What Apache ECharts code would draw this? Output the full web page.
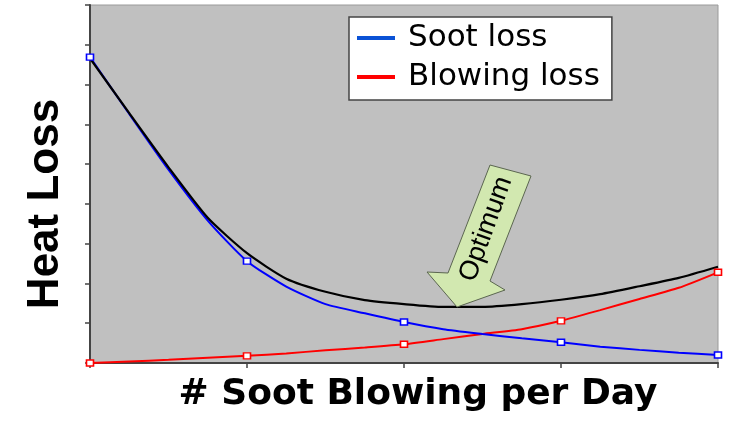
<!DOCTYPE html>
<html>
<head>
<meta charset="utf-8">
<script src="https://cdn.jsdelivr.net/npm/echarts@6/dist/echarts.min.js"></script>
<style>html,body{margin:0;padding:0;background:#fff;}#c{width:734px;height:425px;}</style>
</head>
<body>
<div id="c"></div>
<script>
// Soot blowings per day (x positions of read-off points)
var blowings = [0, 0.25, 0.5, 0.75, 1, 1.25, 1.5, 1.75, 2, 2.25, 2.5, 2.75, 3, 3.25, 3.5, 3.75, 4];
// Soot loss (blue)
var sootLoss = [7.69, 6.26, 4.86, 3.58, 2.56, 1.92, 1.48, 1.25, 1.03, 0.85, 0.73, 0.62, 0.52, 0.41, 0.33, 0.26, 0.20];
// Blowing loss (red)
var blowingLoss = [0, 0.04, 0.08, 0.13, 0.18, 0.24, 0.32, 0.39, 0.47, 0.60, 0.73, 0.85, 1.06, 1.33, 1.61, 1.89, 2.28];
// Total heat loss (black)
var totalLoss = [7.66, 6.28, 4.92, 3.65, 2.76, 2.12, 1.79, 1.58, 1.48, 1.41, 1.41, 1.48, 1.59, 1.73, 1.93, 2.14, 2.42];
var seriesNames = ['Soot loss', 'Blowing loss'];
var xTitle = '# Soot Blowing per Day';
var yTitle = 'Heat Loss';
var note = 'Optimum';

function pairs(ys) { return blowings.map(function (x, i) { return [x, ys[i]]; }); }
function markerPairs(ys) {
  return blowings.map(function (x, i) { return [x, ys[i]]; })
    .filter(function (p) { return Math.round(p[0]) === p[0]; });
}

var chart = echarts.init(document.getElementById('c'), null, { renderer: 'canvas' });
var marker = { symbol: 'rect', symbolSize: [7, 6] };
chart.setOption({
  animation: false,
  backgroundColor: '#ffffff',
  grid: {
    left: 90, right: 16, top: 5, bottom: 62,
    show: true, backgroundColor: '#c0c0c0', borderColor: '#9a9a9a', borderWidth: 1
  },
  legend: {
    orient: 'vertical',
    left: 349, top: 17,
    padding: [4, 12, 6, 8],
    itemGap: 5,
    itemWidth: 38, itemHeight: 4,
    icon: 'rect',
    backgroundColor: '#ffffff',
    borderColor: '#444444', borderWidth: 1.5, borderRadius: 0,
    textStyle: { fontFamily: 'DejaVu Sans', fontSize: 31, color: '#000', lineHeight: 34, padding: [0, 0, 0, 8] },
    data: [
      { name: seriesNames[0], itemStyle: { color: '#0a52d6' } },
      { name: seriesNames[1], itemStyle: { color: '#ff0000' } }
    ]
  },
  xAxis: {
    type: 'value', min: 0, max: 4, interval: 1,
    name: xTitle, nameLocation: 'middle', nameGap: 14,
    nameTextStyle: { fontFamily: 'DejaVu Sans', fontWeight: 'bold', fontSize: 36, color: '#000', padding: [0, 0, 0, 28] },
    axisLine: { show: true, onZero: false, lineStyle: { color: '#444', width: 2 } },
    axisTick: { show: true, length: 5, lineStyle: { color: '#444', width: 1.5 } },
    axisLabel: { show: false },
    splitLine: { show: false }
  },
  yAxis: {
    type: 'value', min: 0, max: 9, interval: 1,
    name: yTitle, nameLocation: 'middle', nameGap: 22, nameRotate: 90,
    nameTextStyle: { fontFamily: 'Liberation Sans', fontWeight: 'bold', fontSize: 44, color: '#000', padding: [0, 40, 0, 0] },
    axisLine: { show: true, lineStyle: { color: '#444', width: 2 } },
    axisTick: { show: true, length: 5, lineStyle: { color: '#444', width: 1.5 } },
    axisLabel: { show: false },
    splitLine: { show: false }
  },
  series: [
    { name: seriesNames[1], type: 'line', data: pairs(blowingLoss), smooth: 0.2, showSymbol: false,
      lineStyle: { color: '#ff0000', width: 2 }, itemStyle: { color: '#ff0000' }, z: 2 },
    { name: seriesNames[0], type: 'line', data: pairs(sootLoss), smooth: 0.2, showSymbol: false,
      lineStyle: { color: '#0000ff', width: 2 }, itemStyle: { color: '#0000ff' }, z: 2 },
    { name: 'Total', type: 'line', data: pairs(totalLoss), smooth: 0.2, showSymbol: false,
      lineStyle: { color: '#000000', width: 2.2 }, itemStyle: { color: '#000' }, z: 3 },
    { name: 'blowMarks', type: 'scatter', data: markerPairs(blowingLoss), symbol: marker.symbol, symbolSize: marker.symbolSize,
      itemStyle: { color: '#ffffff', borderColor: '#ff0000', borderWidth: 1.5, opacity: 1 }, z: 4 },
    { name: 'sootMarks', type: 'scatter', data: markerPairs(sootLoss), symbol: marker.symbol, symbolSize: marker.symbolSize,
      itemStyle: { color: '#ffffff', borderColor: '#0000ff', borderWidth: 1.5, opacity: 1 }, z: 4 }
  ],
  graphic: [
    { type: 'polygon', z: 10,
      shape: { points: [[490, 165], [531, 176], [490, 281], [505, 290], [457, 307], [427, 272], [448, 273]] },
      style: { fill: '#d2e8b0', stroke: '#5b6650', lineWidth: 1 } },
    { type: 'text', z: 11, x: 486, y: 229, rotation: 70 * Math.PI / 180,
      style: { text: note, fontFamily: 'Liberation Sans', fontSize: 27, fill: '#000', align: 'center', verticalAlign: 'middle' } }
  ]
});
</script>
</body>
</html>
